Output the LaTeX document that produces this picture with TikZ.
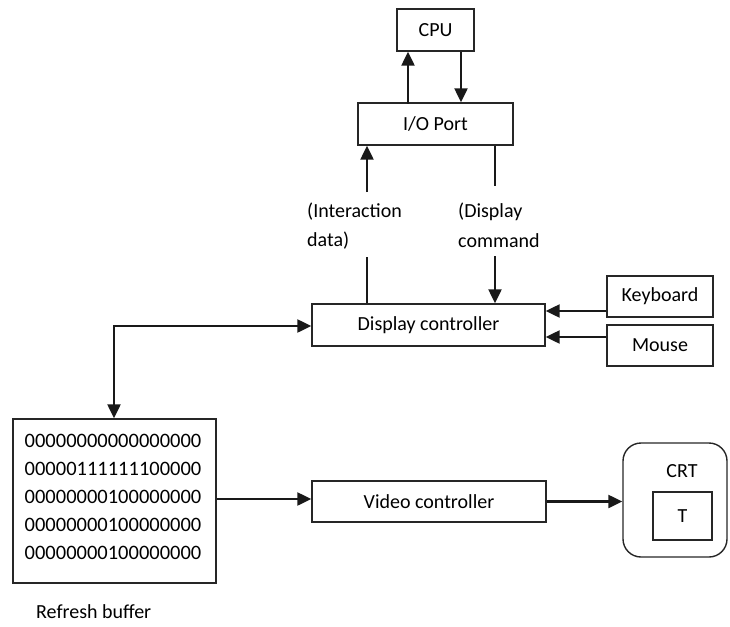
\documentclass[tikz,border=0pt]{standalone}
\usepackage{fontspec}
\setmainfont{Carlito}
\usetikzlibrary{arrows.meta}
\tikzset{
  box/.style={draw=black!85, line width=1.4pt, inner sep=0pt, font=\fontsize{20}{24}\selectfont},
  lbl/.style={inner sep=0pt, font=\fontsize{20}{24}\selectfont},
  conn/.style={draw=black!90, line width=2.3pt},
  arr/.style={conn, -{Triangle[length=14pt,width=13pt]}},
  darr/.style={conn, {Triangle[length=14pt,width=13pt]}-{Triangle[length=14pt,width=13pt]}}
}
\begin{document}
\begin{tikzpicture}[x=1pt,y=-1pt]
\useasboundingbox (0,0) rectangle (730,626);
% boxes
\node[box, minimum width=77pt, minimum height=42pt] (cpu) at (435.5,30) {CPU};
\node[box, minimum width=155pt, minimum height=42pt] (io) at (435.5,124) {I/O Port};
\node[box, minimum width=233pt, minimum height=42pt] (dc) at (428.5,325) {Display controller};
\node[box, minimum width=106pt, minimum height=41pt] (kb) at (660,296.5) {Keyboard};
\node[box, minimum width=106pt, minimum height=41pt] (ms) at (660,345.5) {Mouse};
\node[box, minimum width=203pt, minimum height=164pt] (rb) at (114.5,501) {};
\node[box, minimum width=234pt, minimum height=41pt] (vc) at (429,501.5) {Video controller};
\node[box, rounded corners=18pt, minimum width=104pt, minimum height=114pt] (crt) at (675,500) {};
\node[box, minimum width=59pt, minimum height=48pt] (tbox) at (682.5,516) {T};
\node[lbl] (crtl) at (682,471) {CRT};
% buffer text
\node[lbl, align=left, font=\fontsize{20.5}{28}\selectfont] (bits) at (113,496.5) {00000000000000000\\00000111111100000\\00000000100000000\\00000000100000000\\00000000100000000};
\node[lbl, anchor=west] (rbl) at (36,612) {Refresh buffer};
% labels
\node[lbl, anchor=west] (l1) at (307,212) {(Interaction};
\node[lbl, anchor=west] (l2) at (307,241) {data)};
\node[lbl, anchor=west] (l3) at (458,212) {(Display};
\node[lbl, anchor=west] (l4) at (458,241) {command};
% coordinates
\coordinate (ia) at (367,192);
\coordinate (ib) at (367,257);
\coordinate (da) at (495,186);
\coordinate (db) at (495,256);
\coordinate (corner) at (114,326);
% connectors
\draw[arr] (cpu.south -| 408,0) ++(0,52) -- (cpu.south -| 408,0);
\draw[arr] (cpu.south -| 461,0) -- (io.north -| 461,0);
\draw[arr] (ia) -- (ia |- io.south);
\draw[conn] (io.south -| da) -- (da);
\draw[conn] (ib) -- (ib |- dc.north);
\draw[arr] (db) -- (db |- dc.north);
\draw[arr] (kb.west |- 0,311) -- (dc.east |- 0,311);
\draw[arr] (ms.west |- 0,337) -- (dc.east |- 0,337);
\draw[darr] (rb.north -| corner) -- (corner) -- (dc.west |- corner);
\draw[arr] (rb.east |- 0,499) -- (vc.west |- 0,499);
\draw[arr] (vc.east) -- (crt.west |- vc.east);
\end{tikzpicture}
\end{document}
